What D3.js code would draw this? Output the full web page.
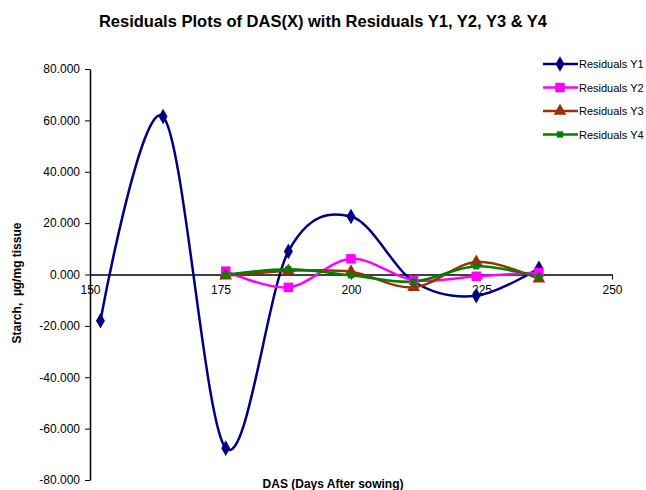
<!DOCTYPE html>
<html><head><meta charset="utf-8">
<script src="https://cdn.jsdelivr.net/npm/d3@7"></script>
<style>body{margin:0;background:#fff}svg{display:block}text{font-family:"Liberation Sans",Arial,sans-serif}</style>
</head><body>
<svg id="c" width="646" height="490"></svg>
<script>
const das = [152, 164, 176, 188, 200, 212, 224, 236];
const y1 = [-18.0, 61.5, -67.6, 9.0, 22.6, -2.7, -8.3, 2.4];
const dasB = [176, 188, 200, 212, 224, 236];
const y2 = [1.3, -5.0, 6.1, -2.2, -0.7, 0.8];
const y3 = [-0.5, 1.4, 1.1, -5.0, 4.9, -1.7];
const y4 = [-0.2, 2.0, -0.3, -2.8, 3.2, -1.0];
const xTicks = [150, 175, 200, 225, 250];
const yTicks = [80, 60, 40, 20, 0, -20, -40, -60, -80];
const seriesNames = ["Residuals Y1", "Residuals Y2", "Residuals Y3", "Residuals Y4"];

const series = [
  {name: seriesNames[0], xs: das, ys: y1, color: "#000080", marker: "diamond"},
  {name: seriesNames[1], xs: dasB, ys: y2, color: "#FF00FF", marker: "square"},
  {name: seriesNames[2], xs: dasB, ys: y3, color: "#993300", marker: "triangle"},
  {name: seriesNames[3], xs: dasB, ys: y4, color: "#008000", marker: "smallsquare"}
];

const svg = d3.select("#c");
const x = d3.scaleLinear().domain([150, 250]).range([90, 612]);
const y = d3.scaleLinear().domain([-80, 80]).range([480, 69]);

const fmt = d => d3.format(".3f")(d).replace("\u2212", "-");

// y axis
const yAxis = svg.append("g").attr("transform", `translate(${x(150)},0)`)
  .call(d3.axisLeft(y).tickValues(yTicks).tickFormat(fmt).tickSize(5).tickSizeOuter(0));
yAxis.select(".domain").attr("stroke", "#000").attr("stroke-width", 1.5);
yAxis.selectAll("text").attr("font-size", 12).attr("fill", "#000").attr("dx", -2);

// x axis at zero
const xAxis = svg.append("g").attr("transform", `translate(0,${y(0)})`)
  .call(d3.axisBottom(x).tickValues(xTicks).tickSize(5).tickSizeOuter(0).tickPadding(6));
xAxis.select(".domain").attr("stroke", "#000").attr("stroke-width", 1.5);
xAxis.selectAll("text").attr("font-size", 12).attr("fill", "#000");

function markerPath(type) {
  if (type === "diamond") return d3.symbol(d3.symbolDiamond, 70)();
  if (type === "square") return d3.symbol(d3.symbolSquare, 90)();
  if (type === "triangle") return d3.symbol(d3.symbolTriangle, 70)();
  return d3.symbol(d3.symbolSquare, 40)();
}

const line = d3.line().curve(d3.curveCardinal.tension(0)).x(d => x(d[0])).y(d => y(d[1]));

series.forEach(s => {
  const pts = s.xs.map((v, i) => [v, s.ys[i]]);
  svg.append("path").attr("d", line(pts)).attr("fill", "none")
    .attr("stroke", s.color).attr("stroke-width", 2.5);
});
series.forEach(s => {
  const pts = s.xs.map((v, i) => [v, s.ys[i]]);
  svg.append("g").selectAll("path").data(pts).join("path")
    .attr("transform", d => `translate(${x(d[0])},${y(d[1])})`)
    .attr("d", markerPath(s.marker)).attr("fill", s.color);
});

// legend
const leg = svg.append("g");
series.forEach((s, i) => {
  const ly = 64 + i * 23.5;
  leg.append("line").attr("x1", 543).attr("x2", 578).attr("y1", ly).attr("y2", ly)
    .attr("stroke", s.color).attr("stroke-width", 2.5);
  leg.append("path").attr("transform", `translate(560,${ly})`).attr("d", markerPath(s.marker)).attr("fill", s.color);
  leg.append("text").attr("x", 579).attr("y", ly + 4).attr("font-size", 11).attr("fill", "#000").text(s.name);
});

// titles
svg.append("text").attr("x", 323).attr("y", 27).attr("text-anchor", "middle")
  .attr("font-size", 16.5).attr("font-weight", "bold").text("Residuals Plots of DAS(X) with Residuals Y1, Y2, Y3 & Y4");
svg.append("text").attr("transform", "translate(21,283) rotate(-90)").attr("text-anchor", "middle")
  .attr("font-size", 12).attr("font-weight", "bold").style("white-space", "pre").text("Starch,  µg/mg tissue");
svg.append("text").attr("x", 333).attr("y", 488).attr("text-anchor", "middle")
  .attr("font-size", 12).attr("font-weight", "bold").text("DAS (Days After sowing)");
</script>
</body></html>
